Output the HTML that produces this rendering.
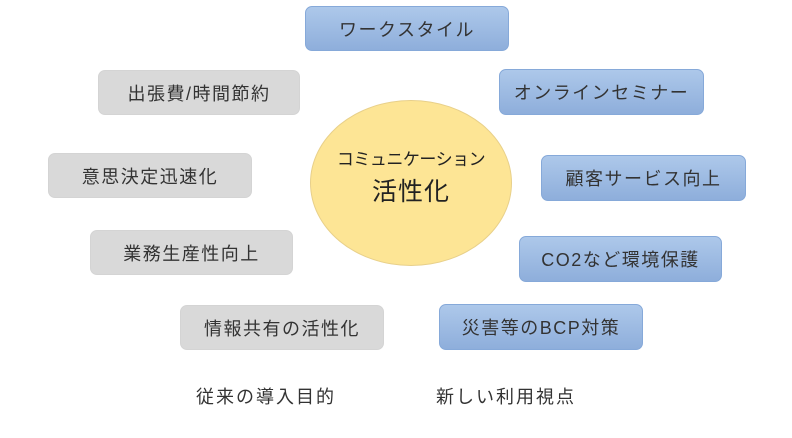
<!DOCTYPE html>
<html><head><meta charset="utf-8"><style>
body{margin:0;width:792px;height:438px;background:#fff;position:relative;overflow:hidden;font-family:"Liberation Sans","Noto Sans CJK JP",sans-serif;color:#333}
.b{position:absolute;box-sizing:border-box;border-radius:7px;display:flex;align-items:center;justify-content:center;font-size:18px;letter-spacing:1.5px}
.bl{background:linear-gradient(#adc8ea,#8eaedb);border:1px solid #86a9d9}
.g{background:#d9d9d9;border:1px solid #d4d4d4}
.t{position:absolute;font-size:18px;letter-spacing:2px}
</style></head><body>
<div class="b bl" style="left:305px;top:6px;width:204px;height:45px">ワークスタイル</div>
<div class="b bl" style="left:499px;top:69px;width:205px;height:46px">オンラインセミナー</div>
<div class="b bl" style="left:541px;top:155px;width:205px;height:46px">顧客サービス向上</div>
<div class="b bl" style="left:519px;top:236px;width:203px;height:46px">CO2など環境保護</div>
<div class="b bl" style="left:439px;top:304px;width:204px;height:46px">災害等のBCP対策</div>
<div class="b g" style="left:98px;top:70px;width:202px;height:45px">出張費/時間節約</div>
<div class="b g" style="left:48px;top:153px;width:204px;height:45px">意思決定迅速化</div>
<div class="b g" style="left:90px;top:230px;width:203px;height:45px">業務生産性向上</div>
<div class="b g" style="left:180px;top:305px;width:204px;height:45px">情報共有の活性化</div>
<div style="position:absolute;left:310px;top:100px;width:202px;height:166px;border-radius:50%;background:#fde595;border:1px solid #e8d08a;box-sizing:border-box;display:flex;flex-direction:column;align-items:center;justify-content:center;color:#222">
<div style="font-size:17px;letter-spacing:-0.5px;margin-top:-14px">コミュニケーション</div>
<div style="font-size:25px;margin-top:2px;letter-spacing:1px">活性化</div></div>
<div class="t" style="left:196px;top:383px">従来の導入目的</div>
<div class="t" style="left:436px;top:383px">新しい利用視点</div>
</body></html>
